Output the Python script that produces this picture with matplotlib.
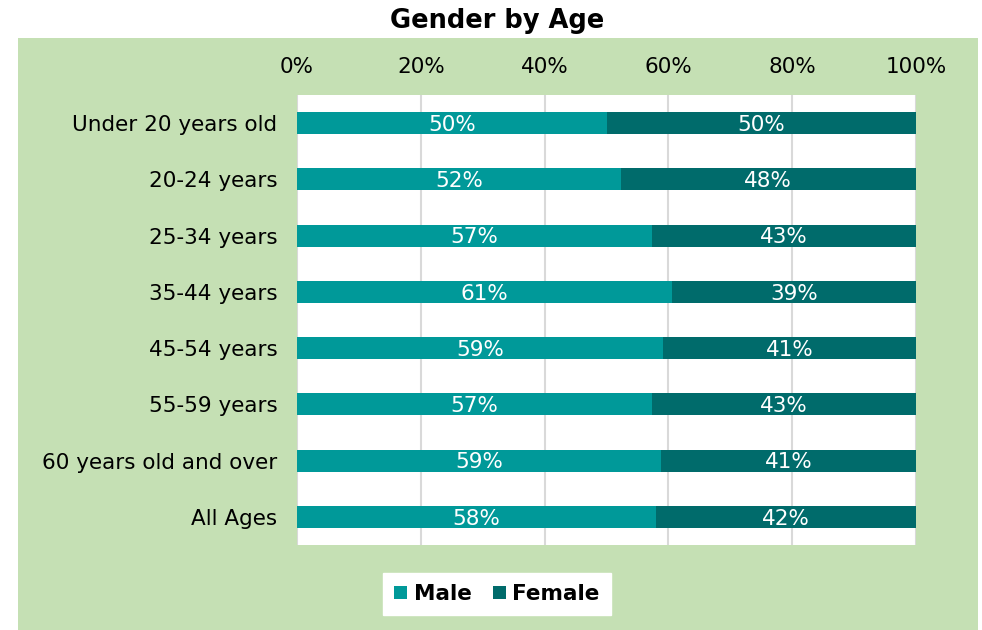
import matplotlib.pyplot as plt
import numpy as np
from matplotlib.patches import Rectangle

# Gender by Age
ages = ['Under 20 years old', '20-24 years', '25-34 years', '35-44 years',
        '45-54 years', '55-59 years', '60 years old and over', 'All Ages']
male = [50.1, 52.3, 57.4, 60.6, 59.1, 57.4, 58.8, 58.0]
female = [49.9, 47.7, 42.6, 39.4, 40.9, 42.6, 41.2, 42.0]
ticks = [0, 20, 40, 60, 80, 100]

c_male = '#009999'
c_female = '#006B6B'

fig = plt.figure(figsize=(9.82, 6.3), dpi=100)
fig.patch.set_facecolor('white')
fig.patches.append(Rectangle((18/982, 0), 960/982, 1 - 38/630, transform=fig.transFigure,
                             facecolor='#C5E0B4', edgecolor='none', zorder=-10))

ax = fig.add_axes([297/982, 1 - 545/630, 619/982, 450/630])
ax.set_facecolor('white')

y = np.arange(len(ages))
b1 = ax.barh(y, male, height=0.39, color=c_male, label='Male', zorder=3)
b2 = ax.barh(y, female, left=male, height=0.39, color=c_female, label='Female', zorder=3)

for i in range(len(ages)):
    ax.text(male[i] / 2, y[i] + 0.03, f'{male[i]:.0f}%', color='white', fontsize=15.5,
            ha='center', va='center', zorder=4)
    ax.text(male[i] + female[i] / 2, y[i] + 0.03, f'{female[i]:.0f}%', color='white',
            fontsize=15.5, ha='center', va='center', zorder=4)

ax.set_xlim(0, 100)
ax.set_ylim(len(ages) - 0.5, -0.5)
ax.set_yticks(y)
ax.set_yticklabels(ages, fontsize=15.5)
ax.xaxis.tick_top()
ax.set_xticks(ticks)
ax.set_xticklabels([f'{t}%' for t in ticks], fontsize=15.5)
ax.tick_params(axis='both', length=0)
ax.tick_params(axis='x', pad=13)
ax.tick_params(axis='y', pad=14)
ax.grid(axis='x', color='#D9D9D9', linewidth=1.5, zorder=0)
for s in ax.spines.values():
    s.set_visible(False)

fig.text(497/982, 1 - 21/630, 'Gender by Age', fontsize=18.5, fontweight='bold',
         ha='center', va='center')

leg = fig.legend(handles=[b1, b2], loc='center', bbox_to_anchor=(497/982, 1 - 594/630),
                 ncol=2, frameon=True, fancybox=False, framealpha=1,
                 prop={'size': 15.5, 'weight': 'bold'}, handlelength=0.6, handleheight=0.6,
                 handletextpad=0.3, columnspacing=1.0, borderpad=0.5)
leg.get_frame().set_facecolor('white')
leg.get_frame().set_edgecolor('white')

plt.savefig('out.png', dpi=100)
